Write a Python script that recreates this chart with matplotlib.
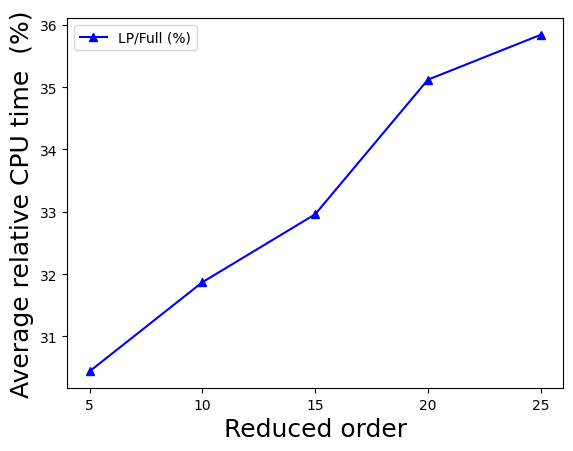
import matplotlib
matplotlib.use("Agg")
import matplotlib.pyplot as plt

# data
reduced_order = [5, 10, 15, 20, 25]
lp_full_pct = [30.44, 31.87, 32.96, 35.12, 35.84]

fig, ax = plt.subplots(figsize=(5.73, 4.52), dpi=100)
fig.subplots_adjust(left=0.117, right=0.983, top=0.958, bottom=0.139)

ax.plot(reduced_order, lp_full_pct, 'b-^', label='LP/Full (%)')
ax.set_xlabel('Reduced order', fontsize=18)
ax.set_ylabel('Average relative CPU time  (%)', fontsize=18)
ax.set_xticks(reduced_order)
ax.legend(loc='upper left')

fig.savefig('out.png', dpi=100)
